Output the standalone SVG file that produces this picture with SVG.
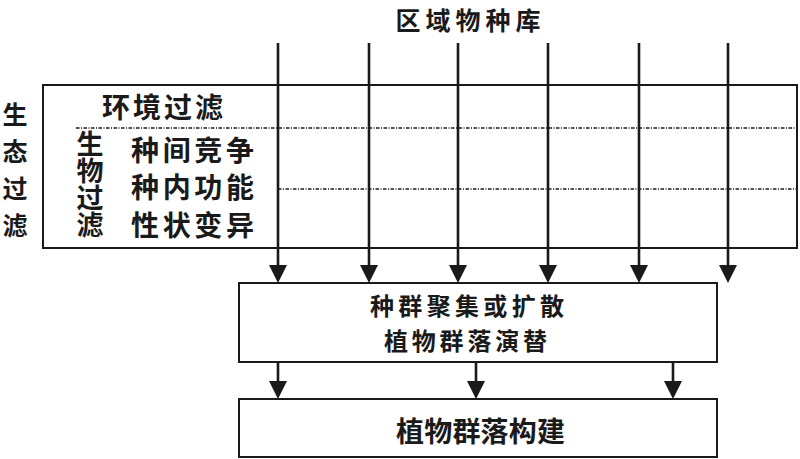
<svg xmlns="http://www.w3.org/2000/svg" width="800" height="459" viewBox="0 0 800 459">
<style>
text{font-family:"Noto Sans CJK SC","Noto Sans",sans-serif;font-size:28px;font-weight:bold;fill:#1a1a1a}
.v{writing-mode:vertical-rl}
.e{font-size:25px}
.m{font-size:24px}
.box{fill:#fff;stroke:#1a1a1a;stroke-width:2}
.dd{stroke:#1a1a1a;stroke-width:1.3;stroke-dasharray:3.5 1.5 1 1.5;fill:none}
.arr{stroke:#1a1a1a;stroke-width:2.6;fill:none;marker-end:url(#ah)}
</style>
<defs>
<marker id="ah" viewBox="0 0 18 18" markerWidth="18" markerHeight="18" refX="9" refY="9" orient="auto" markerUnits="userSpaceOnUse">
<path d="M0,0 L18,9 L0,18 z" fill="#1a1a1a"/>
</marker>
</defs>
<rect width="800" height="459" fill="#fff"/>
<g id="pool"><text x="468" y="30" text-anchor="middle" textLength="145" lengthAdjust="spacing" style="font-size:25px">区域物种库</text></g>
<g id="eco-label">
<text class="e" x="15" y="124" text-anchor="middle">生</text>
<text class="e" x="15" y="161" text-anchor="middle">态</text>
<text class="e" x="15" y="198" text-anchor="middle">过</text>
<text class="e" x="15" y="235" text-anchor="middle">滤</text>
</g>
<g id="filter-box">
<rect class="box" x="43" y="85" width="754" height="163"/>
<line class="dd" x1="76" y1="128" x2="797" y2="128"/>
<line class="dd" x1="278" y1="189" x2="797" y2="189"/>
<text x="102" y="118" textLength="121" lengthAdjust="spacing">环境过滤</text>
<text class="v" x="90" y="130" style="font-size:27px">生物过滤</text>
<text x="131" y="161" textLength="123" lengthAdjust="spacing">种间竞争</text>
<text x="131" y="198" textLength="123" lengthAdjust="spacing">种内功能</text>
<text x="131" y="236" textLength="123" lengthAdjust="spacing">性状变异</text>
</g>
<g id="assembly">
<rect class="box" x="239" y="283" width="478" height="79"/>
<text class="m" x="370" y="315" textLength="194" lengthAdjust="spacing">种群聚集或扩散</text>
<text class="m" x="384" y="350" textLength="163" lengthAdjust="spacing">植物群落演替</text>
</g>
<g id="construct">
<rect class="box" x="239" y="399" width="478" height="58"/>
<text x="396" y="442" textLength="169" lengthAdjust="spacing">植物群落构建</text>
</g>
<g id="connectors">
<line class="arr" x1="278" y1="43" x2="278" y2="274"/>
<line class="arr" x1="369" y1="43" x2="369" y2="274"/>
<line class="arr" x1="458" y1="43" x2="458" y2="274"/>
<line class="arr" x1="548" y1="43" x2="548" y2="274"/>
<line class="arr" x1="639" y1="43" x2="639" y2="274"/>
<line class="arr" x1="728" y1="43" x2="728" y2="274"/>
<line class="arr" x1="278" y1="362" x2="278" y2="390"/>
<line class="arr" x1="476" y1="362" x2="476" y2="390"/>
<line class="arr" x1="673" y1="362" x2="673" y2="390"/>
</g>
</svg>
